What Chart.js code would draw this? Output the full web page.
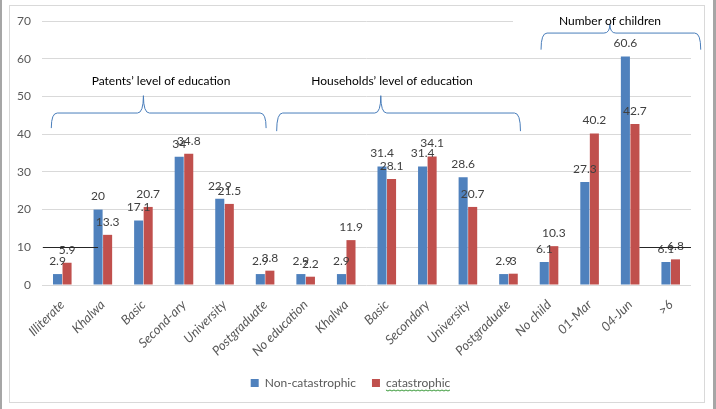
<!DOCTYPE html>
<html lang="en">
<head>
    <meta charset="UTF-8">
    <title>Catastrophic expenditure by education and children</title>
    <script src="https://cdn.jsdelivr.net/npm/chart.js"></script>
    <style>
        body { margin: 0; background: #fff; }
        .wrap { position: relative; width: 716px; height: 409px; }
    </style>
</head>
<body>
    <div class="wrap"><canvas id="myChart" width="716" height="409"></canvas></div>

    <script>
        // chart data
        const categories = ['Illiterate', 'Khalwa', 'Basic', 'Second-ary', 'University', 'Postgraduate',
            'No education', 'Khalwa', 'Basic', 'Secondary', 'University', 'Postgraduate',
            'No child', '01-Mar', '04-Jun', '>6'];
        const nonCatastrophic = [2.9, 20, 17.1, 34, 22.9, 2.9, 2.9, 2.9, 31.4, 31.4, 28.6, 2.9, 6.1, 27.3, 60.6, 6.1];
        const catastrophic = [5.9, 13.3, 20.7, 34.8, 21.5, 3.8, 2.2, 11.9, 28.1, 34.1, 20.7, 3, 10.3, 40.2, 42.7, 6.8];
        const yTicks = [0, 10, 20, 30, 40, 50, 60, 70];

        // group headings: first and last category index of each group
        const groups = [
            { title: 'Patents\u2019 level of education', from: 0, to: 5 },
            { title: 'Households\u2019 level of education', from: 6, to: 11 },
            { title: 'Number of children', from: 12, to: 15 }
        ];

        const family = 'Lato, "Open Sans", sans-serif';
        const textFont = '12px ' + family;

        // frame around the chart + gray strips at the sides
        const framePlugin = {
            id: 'frame',
            beforeDraw(chart) {
                const ctx = chart.ctx;
                ctx.save();
                ctx.fillStyle = '#fff';
                ctx.fillRect(0, 0, chart.width, chart.height);
                ctx.fillStyle = '#a6a6a6';
                ctx.fillRect(0, 0, 2, chart.height);
                ctx.fillRect(713, 0, 3, chart.height);
                ctx.strokeStyle = '#d9d9d9';
                ctx.lineWidth = 1;
                ctx.strokeRect(9.5, 5.5, 695, 397);
                ctx.restore();
            }
        };

        // value labels above the bars
        const valueLabels = {
            id: 'valueLabels',
            afterDatasetsDraw(chart) {
                const ctx = chart.ctx;
                ctx.save();
                ctx.font = textFont;
                ctx.fillStyle = '#404040';
                ctx.textAlign = 'center';
                ctx.textBaseline = 'middle';
                chart.data.datasets.forEach((ds, di) => {
                    const meta = chart.getDatasetMeta(di);
                    meta.data.forEach((bar, i) => {
                        ctx.fillText(String(ds.data[i]), bar.x, bar.y - 13);
                    });
                });
                ctx.restore();
            }
        };

        // curly braces with the group headings, plus the two stray lines at 10
        const annotations = {
            id: 'annotations',
            afterDraw(chart) {
                const ctx = chart.ctx;
                const x = chart.scales.x;
                const y = chart.scales.y;
                const area = chart.chartArea;
                const step = x.getPixelForValue(1) - x.getPixelForValue(0);

                function brace(x1, x2, xm, yEnd, yTop, yTip) {
                    const r = 6;
                    ctx.beginPath();
                    ctx.moveTo(x1, yEnd);
                    ctx.quadraticCurveTo(x1, yTop, x1 + r, yTop);
                    ctx.lineTo(xm - r, yTop);
                    ctx.quadraticCurveTo(xm, yTop, xm, yTip);
                    ctx.quadraticCurveTo(xm, yTop, xm + r, yTop);
                    ctx.lineTo(x2 - r, yTop);
                    ctx.quadraticCurveTo(x2, yTop, x2, yEnd);
                    ctx.stroke();
                }

                ctx.save();
                // heading box of the last group hides the top gridline
                ctx.fillStyle = '#fff';
                ctx.fillRect(513, 12, area.right - 513 + 2, 16);

                ctx.strokeStyle = '#4a7ebb';
                ctx.lineWidth = 1;
                const g1 = groups[0], g2 = groups[1], g3 = groups[2];
                brace(x.getPixelForValue(g1.from) - 11, x.getPixelForValue(g1.to) + 1,
                    x.getPixelForValue(2), y.getPixelForValue(41.6), y.getPixelForValue(45.6), y.getPixelForValue(50.2));
                brace(x.getPixelForValue(g2.from) - 29, x.getPixelForValue(g2.to) + 12,
                    x.getPixelForValue(8) - 6, y.getPixelForValue(40.8), y.getPixelForValue(45.6), y.getPixelForValue(50.2));
                brace(x.getPixelForValue(g3.from) - 8, x.getPixelForValue(g3.to) + 30,
                    x.getPixelForValue(13) + 0.5 * step, y.getPixelForValue(62.4), y.getPixelForValue(66.8), y.getPixelForValue(69.2));

                ctx.font = textFont;
                ctx.fillStyle = '#000';
                ctx.textAlign = 'center';
                ctx.textBaseline = 'middle';
                ctx.fillText(g1.title, 161, y.getPixelForValue(54.1));
                ctx.fillText(g2.title, 392, y.getPixelForValue(54.1));
                ctx.fillText(g3.title, 610, 21);

                // stray black lines at 10
                const blue = chart.getDatasetMeta(0).data;
                const red = chart.getDatasetMeta(1).data;
                const y10 = Math.round(y.getPixelForValue(10)) + 0.5;
                ctx.strokeStyle = '#262626';
                ctx.beginPath();
                ctx.moveTo(area.left + 1, y10);
                ctx.lineTo(blue[1].x, y10);
                ctx.moveTo(red[14].x + red[14].width / 2, y10);
                ctx.lineTo(area.right, y10);
                ctx.stroke();

                // spell-check squiggle under the second legend entry
                const hb = chart.legend.legendHitBoxes[1];
                if (hb) {
                    ctx.strokeStyle = '#3a9a3a';
                    ctx.beginPath();
                    const x0 = hb.left + 14, x1 = hb.left + hb.width, yy = hb.top + hb.height + 1;
                    for (let px = x0; px <= x1; px += 2) {
                        const yo = ((px - x0) / 2) % 2 === 0 ? 0 : 1;
                        if (px === x0) ctx.moveTo(px, yy + yo); else ctx.lineTo(px, yy + yo);
                    }
                    ctx.stroke();
                }
                ctx.restore();
            }
        };

        const ctx = document.getElementById('myChart').getContext('2d');
        new Chart(ctx, {
            type: 'bar',
            data: {
                labels: categories,
                datasets: [{
                    label: 'Non-catastrophic',
                    data: nonCatastrophic,
                    backgroundColor: '#4f81bd',
                    barPercentage: 0.95,
                    categoryPercentage: 0.47
                }, {
                    label: 'catastrophic',
                    data: catastrophic,
                    backgroundColor: '#c0504d',
                    barPercentage: 0.95,
                    categoryPercentage: 0.47
                }]
            },
            options: {
                responsive: false,
                animation: false,
                layout: { padding: { left: 10, right: 25, top: 21, bottom: 10 } },
                plugins: {
                    tooltip: { enabled: false },
                    legend: {
                        position: 'bottom',
                        labels: {
                            boxWidth: 8,
                            boxHeight: 8,
                            padding: 16,
                            color: '#595959',
                            font: { family: family, size: 12 }
                        }
                    }
                },
                scales: {
                    x: {
                        grid: { display: false },
                        border: { display: false },
                        ticks: {
                            minRotation: 45,
                            maxRotation: 45,
                            autoSkip: false,
                            padding: 4,
                            color: '#595959',
                            font: { family: family, size: 13, style: 'italic' }
                        },
                        afterFit(scale) { scale.height = 76; }
                    },
                    y: {
                        min: 0,
                        max: 70,
                        afterBuildTicks(scale) { scale.ticks = yTicks.map(v => ({ value: v })); },
                        grid: { color: '#d9d9d9', drawTicks: false },
                        border: { display: false },
                        ticks: {
                            padding: 11,
                            color: '#595959',
                            font: { family: family, size: 12 }
                        },
                        afterFit(scale) { scale.width = 32; }
                    }
                }
            },
            plugins: [framePlugin, valueLabels, annotations]
        });
    </script>
</body>
</html>
